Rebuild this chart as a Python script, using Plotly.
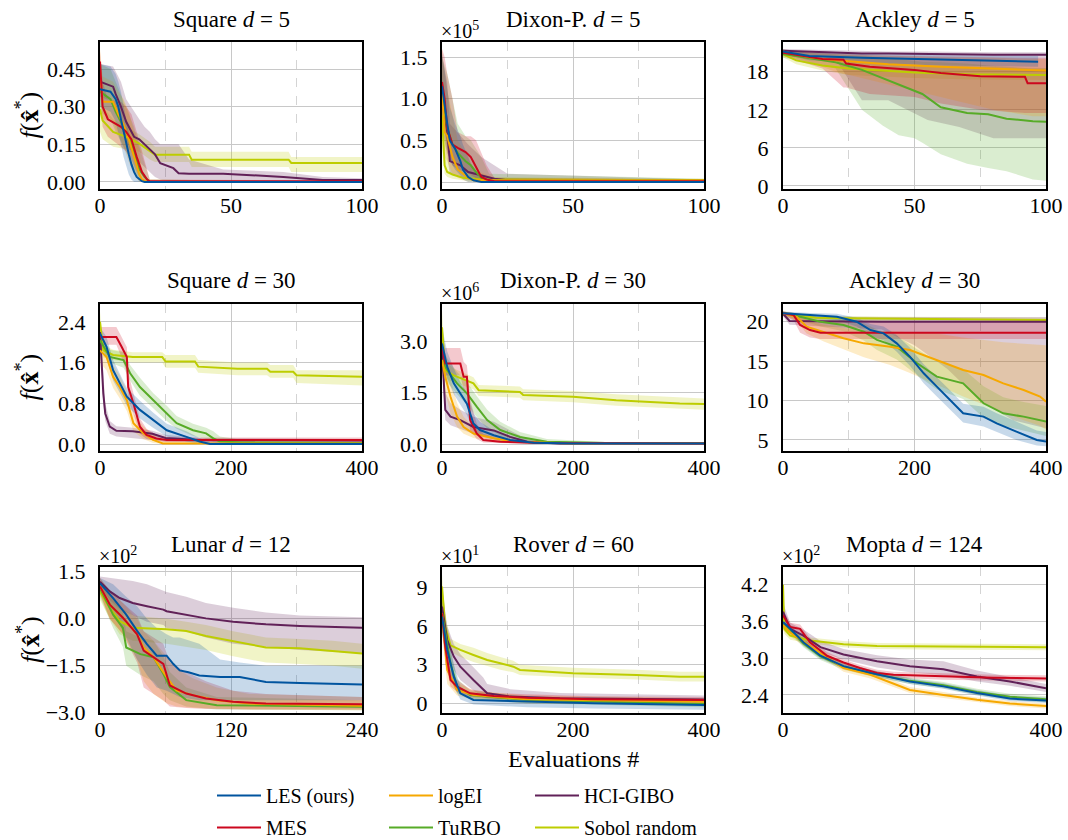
import plotly.graph_objects as go

W, H = 1068, 840

# ---------------- data: Square d=5 ----------------
SQ5_LES_X = [0, 4, 6, 7, 8, 9, 10, 11, 12, 13, 14, 15, 16, 17, 100]
SQ5_LES_MED = [0.37, 0.36, 0.33, 0.30, 0.25, 0.20, 0.15, 0.11, 0.07, 0.04, 0.02, 0.01, 0.003, 0.0, 0.0]
SQ5_LES_LO = [0.30, 0.28, 0.24, 0.20, 0.15, 0.10, 0.06, 0.03, 0.01, 0.0, 0.0, 0.0, 0.0, 0.0, 0.0]
SQ5_LES_HI = [0.47, 0.46, 0.43, 0.40, 0.36, 0.30, 0.25, 0.20, 0.15, 0.10, 0.06, 0.03, 0.01, 0.0, 0.0]
SQ5_LOGEI_X = [0, 1, 5, 7, 9, 11, 13, 15, 16, 18, 100]
SQ5_LOGEI_MED = [0.45, 0.32, 0.32, 0.27, 0.23, 0.17, 0.10, 0.03, 0.01, 0.0, 0.0]
SQ5_LOGEI_LO = [0.35, 0.25, 0.24, 0.19, 0.14, 0.08, 0.03, 0.0, 0.0, 0.0, 0.0]
SQ5_LOGEI_HI = [0.53, 0.42, 0.40, 0.36, 0.33, 0.28, 0.20, 0.12, 0.05, 0.01, 0.0]
SQ5_MES_X = [0, 1, 3, 8, 10, 12, 14, 16, 18, 19, 100]
SQ5_MES_MED = [0.48, 0.30, 0.25, 0.22, 0.20, 0.17, 0.10, 0.04, 0.01, 0.003, 0.003]
SQ5_MES_LO = [0.38, 0.22, 0.18, 0.14, 0.12, 0.09, 0.04, 0.0, 0.0, 0.0, 0.0]
SQ5_MES_HI = [0.52, 0.40, 0.33, 0.32, 0.30, 0.27, 0.20, 0.12, 0.04, 0.01, 0.005]
SQ5_TURBO_X = [0, 4, 6, 8, 10, 12, 13, 15, 17, 19, 100]
SQ5_TURBO_MED = [0.36, 0.33, 0.28, 0.24, 0.20, 0.15, 0.12, 0.05, 0.02, 0.0, 0.0]
SQ5_TURBO_LO = [0.28, 0.25, 0.20, 0.16, 0.12, 0.07, 0.05, 0.01, 0.0, 0.0, 0.0]
SQ5_TURBO_HI = [0.47, 0.45, 0.40, 0.35, 0.30, 0.25, 0.22, 0.14, 0.07, 0.01, 0.0]
SQ5_HCI_X = [0, 5, 6, 8, 10, 13, 15, 17, 19, 21, 23, 28, 30, 34, 47, 70, 85, 100]
SQ5_HCI_MED = [0.40, 0.38, 0.35, 0.30, 0.24, 0.18, 0.17, 0.15, 0.13, 0.11, 0.075, 0.055, 0.035, 0.033, 0.033, 0.02, 0.008, 0.008]
SQ5_HCI_LO = [0.34, 0.32, 0.28, 0.22, 0.16, 0.10, 0.08, 0.06, 0.04, 0.02, 0.01, 0.0, 0.0, 0.0, 0.0, 0.0, 0.0, 0.0]
SQ5_HCI_HI = [0.47, 0.46, 0.44, 0.40, 0.33, 0.28, 0.25, 0.22, 0.20, 0.17, 0.15, 0.15, 0.15, 0.09, 0.05, 0.04, 0.02, 0.015]
SQ5_SOBOL_X = [0, 1, 5, 10, 15, 19, 21, 34, 35, 72, 73, 100]
SQ5_SOBOL_MED = [0.29, 0.245, 0.20, 0.18, 0.153, 0.126, 0.109, 0.109, 0.089, 0.089, 0.076, 0.076]
SQ5_SOBOL_LO = [0.20, 0.17, 0.14, 0.13, 0.12, 0.09, 0.08, 0.08, 0.06, 0.06, 0.04, 0.04]
SQ5_SOBOL_HI = [0.36, 0.30, 0.25, 0.22, 0.19, 0.16, 0.14, 0.14, 0.12, 0.12, 0.10, 0.10]

# ---------------- data: Dixon-Price d=5 (x1e5) ----------------
DP5_LES_X = [0, 1, 2, 3, 5, 7, 8, 10, 12, 15, 100]
DP5_LES_MED = [1.15, 0.9, 0.7, 0.5, 0.4, 0.25, 0.15, 0.06, 0.02, 0.0, 0.0]
DP5_LES_LO = [0.8, 0.6, 0.4, 0.25, 0.15, 0.08, 0.03, 0.0, 0.0, 0.0, 0.0]
DP5_LES_HI = [1.55, 1.35, 1.1, 0.9, 0.7, 0.55, 0.45, 0.3, 0.15, 0.05, 0.01]
DP5_LOGEI_X = [0, 1, 2, 4, 6, 8, 10, 12, 20, 100]
DP5_LOGEI_MED = [1.1, 0.6, 0.55, 0.3, 0.15, 0.1, 0.05, 0.02, 0.02, 0.02]
DP5_LOGEI_LO = [0.7, 0.3, 0.25, 0.1, 0.05, 0.02, 0.0, 0.0, 0.0, 0.0]
DP5_LOGEI_HI = [1.6, 1.3, 1.1, 0.8, 0.5, 0.4, 0.3, 0.15, 0.05, 0.03]
DP5_MES_X = [0, 1, 2, 4, 6, 9, 11, 13, 15, 17, 20, 100]
DP5_MES_MED = [1.2, 1.0, 0.65, 0.45, 0.41, 0.36, 0.30, 0.18, 0.06, 0.03, 0.01, 0.01]
DP5_MES_LO = [0.9, 0.6, 0.35, 0.2, 0.15, 0.12, 0.08, 0.04, 0.01, 0.0, 0.0, 0.0]
DP5_MES_HI = [1.6, 1.5, 1.3, 1.0, 0.6, 0.55, 0.55, 0.5, 0.35, 0.2, 0.05, 0.03]
DP5_TURBO_X = [0, 2, 4, 6, 9, 11, 13, 15, 18, 100]
DP5_TURBO_MED = [1.0, 0.65, 0.45, 0.35, 0.25, 0.2, 0.12, 0.05, 0.02, 0.02]
DP5_TURBO_LO = [0.6, 0.35, 0.2, 0.15, 0.08, 0.05, 0.02, 0.0, 0.0, 0.0]
DP5_TURBO_HI = [1.5, 1.3, 1.0, 0.7, 0.55, 0.5, 0.4, 0.3, 0.1, 0.04]
DP5_HCI_X = [0, 2, 3, 7, 10, 15, 20, 25, 100]
DP5_HCI_MED = [1.0, 0.6, 0.25, 0.2, 0.12, 0.08, 0.04, 0.02, 0.01]
DP5_HCI_LO = [0.7, 0.3, 0.1, 0.06, 0.03, 0.02, 0.01, 0.0, 0.0]
DP5_HCI_HI = [1.5, 1.2, 0.7, 0.55, 0.45, 0.3, 0.2, 0.1, 0.03]
DP5_SOBOL_X = [0, 1, 2, 4, 8, 15, 100]
DP5_SOBOL_MED = [0.8, 0.2, 0.12, 0.09, 0.05, 0.03, 0.02]
DP5_SOBOL_LO = [0.4, 0.1, 0.06, 0.04, 0.02, 0.01, 0.01]
DP5_SOBOL_HI = [1.4, 0.6, 0.3, 0.2, 0.1, 0.06, 0.04]

# ---------------- data: Ackley d=5 ----------------
AK5_LES_X = [0, 10, 30, 60, 97]
AK5_LES_MED = [21.2, 20.5, 20.2, 19.9, 19.6]
AK5_LES_LO = [20.8, 19.8, 19.4, 19.0, 18.8]
AK5_LES_HI = [21.5, 21.0, 20.8, 20.6, 20.5]
AK5_LOGEI_X = [0, 10, 20, 40, 60, 80, 95, 100]
AK5_LOGEI_MED = [21.2, 20.3, 19.8, 19.2, 18.8, 18.5, 18.2, 18.2]
AK5_LOGEI_LO = [20.7, 19.5, 18.0, 16.0, 14.0, 12.0, 11.0, 11.0]
AK5_LOGEI_HI = [21.5, 21.0, 20.8, 20.5, 20.3, 20.2, 20.0, 20.0]
AK5_MES_X = [0, 5, 15, 23, 24, 33, 50, 60, 75, 92, 93, 100]
AK5_MES_MED = [21.0, 20.7, 20.0, 19.9, 19.3, 18.8, 18.3, 17.8, 17.3, 17.2, 16.2, 16.2]
AK5_MES_LO = [20.5, 19.8, 18.5, 15.5, 15.5, 14.5, 14.0, 13.0, 12.0, 11.5, 11.5, 11.5]
AK5_MES_HI = [21.4, 21.2, 21.0, 20.8, 20.8, 20.6, 20.5, 20.4, 20.3, 20.2, 20.2, 20.2]
AK5_TURBO_X = [0, 10, 20, 30, 38, 44, 50, 53, 60, 70, 78, 85, 95, 100]
AK5_TURBO_MED = [20.8, 20.2, 19.5, 18.3, 17.0, 16.0, 15.0, 14.5, 12.4, 11.5, 11.3, 10.6, 10.2, 10.1]
AK5_TURBO_LO = [20.2, 19.5, 18.5, 12.0, 9.5, 8.0, 7.5, 6.8, 5.0, 3.5, 2.8, 2.3, 1.0, 0.8]
AK5_TURBO_HI = [21.3, 21.0, 20.7, 20.5, 20.3, 20.0, 19.8, 19.6, 19.5, 19.3, 19.0, 18.8, 18.5, 18.5]
AK5_HCI_X = [0, 20, 30, 40, 55, 67, 80, 100]
AK5_HCI_MED = [21.3, 21.0, 20.9, 20.9, 20.8, 20.8, 20.7, 20.7]
AK5_HCI_LO = [21.0, 20.0, 13.5, 13.5, 10.4, 9.3, 7.5, 7.5]
AK5_HCI_HI = [21.6, 21.4, 21.3, 21.2, 21.2, 21.1, 21.1, 21.1]
AK5_SOBOL_X = [0, 5, 15, 25, 50, 70, 100]
AK5_SOBOL_MED = [20.8, 19.8, 19.0, 18.5, 17.9, 17.6, 17.5]
AK5_SOBOL_LO = [20.3, 19.2, 18.2, 17.5, 17.0, 16.8, 16.7]
AK5_SOBOL_HI = [21.2, 20.5, 20.0, 19.5, 19.0, 18.8, 18.6]

# ---------------- data: Square d=30 ----------------
SQ30_LES_X = [0, 10, 20, 30, 41, 61, 81, 102, 132, 152, 168, 400]
SQ30_LES_MED = [2.17, 1.91, 1.45, 1.19, 0.93, 0.67, 0.47, 0.27, 0.14, 0.05, 0.0, 0.0]
SQ30_LES_LO = [2.0, 1.7, 1.25, 1.0, 0.75, 0.5, 0.32, 0.15, 0.05, 0.0, 0.0, 0.0]
SQ30_LES_HI = [2.3, 2.1, 1.65, 1.4, 1.1, 0.85, 0.62, 0.4, 0.25, 0.12, 0.05, 0.02]
SQ30_LOGEI_X = [0, 10, 20, 30, 41, 51, 66, 81, 96, 400]
SQ30_LOGEI_MED = [1.84, 1.71, 1.32, 1.12, 0.86, 0.41, 0.21, 0.08, 0.01, 0.01]
SQ30_LOGEI_LO = [1.6, 1.45, 1.1, 0.9, 0.65, 0.25, 0.1, 0.02, 0.0, 0.0]
SQ30_LOGEI_HI = [2.1, 1.95, 1.55, 1.35, 1.05, 0.6, 0.35, 0.18, 0.06, 0.03]
SQ30_MES_X = [0, 25, 33, 41, 43, 51, 61, 71, 86, 102, 400]
SQ30_MES_MED = [2.1, 2.1, 1.91, 1.71, 1.12, 0.8, 0.34, 0.18, 0.11, 0.08, 0.08]
SQ30_MES_LO = [1.95, 1.95, 1.7, 1.4, 0.9, 0.6, 0.2, 0.1, 0.06, 0.04, 0.04]
SQ30_MES_HI = [2.3, 2.3, 2.1, 1.9, 1.4, 1.0, 0.5, 0.3, 0.18, 0.13, 0.13]
SQ30_TURBO_X = [0, 15, 36, 46, 61, 81, 102, 117, 142, 162, 173, 183, 218, 400]
SQ30_TURBO_MED = [2.04, 1.71, 1.65, 1.39, 1.12, 0.86, 0.6, 0.41, 0.27, 0.21, 0.11, 0.05, 0.03, 0.02]
SQ30_TURBO_LO = [1.9, 1.6, 1.5, 1.25, 0.95, 0.7, 0.45, 0.3, 0.16, 0.1, 0.04, 0.01, 0.0, 0.0]
SQ30_TURBO_HI = [2.2, 1.85, 1.8, 1.55, 1.3, 1.0, 0.75, 0.55, 0.4, 0.32, 0.25, 0.15, 0.08, 0.05]
SQ30_HCI_X = [0, 5, 8, 15, 25, 50, 80, 100, 150, 400]
SQ30_HCI_MED = [2.2, 1.0, 0.6, 0.34, 0.26, 0.25, 0.2, 0.12, 0.08, 0.07]
SQ30_HCI_LO = [2.0, 0.8, 0.45, 0.2, 0.15, 0.12, 0.08, 0.05, 0.03, 0.03]
SQ30_HCI_HI = [2.4, 1.3, 0.8, 0.45, 0.35, 0.32, 0.26, 0.18, 0.12, 0.1]
SQ30_SOBOL_X = [0, 5, 20, 50, 95, 100, 145, 150, 210, 255, 260, 295, 300, 400]
SQ30_SOBOL_MED = [2.4, 1.84, 1.75, 1.71, 1.71, 1.62, 1.62, 1.52, 1.48, 1.48, 1.42, 1.42, 1.35, 1.32]
SQ30_SOBOL_LO = [2.2, 1.7, 1.65, 1.6, 1.6, 1.5, 1.5, 1.4, 1.35, 1.35, 1.3, 1.3, 1.2, 1.15]
SQ30_SOBOL_HI = [2.6, 1.95, 1.85, 1.8, 1.8, 1.75, 1.75, 1.65, 1.6, 1.6, 1.55, 1.55, 1.45, 1.45]

# ---------------- data: Dixon-Price d=30 (x1e6) ----------------
DP30_LES_X = [0, 8, 18, 28, 38, 48, 58, 79, 104, 140, 200, 400]
DP30_LES_MED = [2.93, 2.25, 1.77, 1.48, 1.18, 0.6, 0.41, 0.26, 0.12, 0.04, 0.02, 0.02]
DP30_LES_LO = [2.5, 1.9, 1.45, 1.15, 0.85, 0.4, 0.25, 0.14, 0.05, 0.01, 0.0, 0.0]
DP30_LES_HI = [3.4, 2.7, 2.2, 1.8, 1.5, 0.9, 0.65, 0.4, 0.22, 0.1, 0.05, 0.04]
DP30_LOGEI_X = [0, 5, 13, 23, 33, 48, 79, 109, 200, 400]
DP30_LOGEI_MED = [2.45, 1.96, 1.38, 0.8, 0.5, 0.31, 0.17, 0.07, 0.02, 0.02]
DP30_LOGEI_LO = [2.0, 1.5, 0.9, 0.5, 0.3, 0.18, 0.08, 0.03, 0.01, 0.01]
DP30_LOGEI_HI = [3.0, 2.5, 1.9, 1.2, 0.8, 0.5, 0.3, 0.15, 0.05, 0.04]
DP30_MES_X = [0, 5, 28, 33, 38, 43, 53, 63, 89, 150, 400]
DP30_MES_MED = [2.83, 2.35, 2.35, 1.96, 1.96, 0.7, 0.31, 0.12, 0.07, 0.03, 0.02]
DP30_MES_LO = [2.4, 2.0, 2.0, 1.6, 1.5, 0.4, 0.15, 0.05, 0.03, 0.01, 0.01]
DP30_MES_HI = [3.2, 2.8, 2.8, 2.4, 2.3, 1.3, 0.6, 0.3, 0.15, 0.06, 0.04]
DP30_TURBO_X = [0, 8, 23, 38, 53, 69, 89, 119, 160, 250, 400]
DP30_TURBO_MED = [2.45, 2.15, 1.77, 1.48, 1.09, 0.7, 0.41, 0.21, 0.07, 0.03, 0.03]
DP30_TURBO_LO = [2.1, 1.8, 1.45, 1.15, 0.8, 0.45, 0.25, 0.1, 0.03, 0.01, 0.01]
DP30_TURBO_HI = [2.9, 2.5, 2.1, 1.8, 1.4, 1.0, 0.65, 0.35, 0.15, 0.06, 0.05]
DP30_HCI_X = [0, 5, 13, 28, 48, 79, 104, 130, 180, 400]
DP30_HCI_MED = [2.8, 1.0, 0.8, 0.7, 0.5, 0.4, 0.21, 0.07, 0.02, 0.02]
DP30_HCI_LO = [2.4, 0.7, 0.55, 0.45, 0.3, 0.2, 0.1, 0.03, 0.01, 0.01]
DP30_HCI_HI = [3.3, 1.5, 1.2, 1.0, 0.8, 0.65, 0.4, 0.15, 0.05, 0.04]
DP30_SOBOL_X = [0, 5, 18, 48, 56, 119, 124, 200, 266, 363, 400]
DP30_SOBOL_MED = [3.4, 2.15, 2.0, 1.77, 1.57, 1.52, 1.43, 1.38, 1.28, 1.18, 1.17]
DP30_SOBOL_LO = [3.0, 1.9, 1.8, 1.6, 1.4, 1.35, 1.28, 1.22, 1.12, 1.02, 1.0]
DP30_SOBOL_HI = [3.9, 2.4, 2.2, 1.95, 1.72, 1.68, 1.6, 1.55, 1.45, 1.35, 1.33]

# ---------------- data: Ackley d=30 ----------------
AK30_LES_X = [0, 41, 82, 112, 133, 153, 173, 193, 214, 234, 254, 274, 305, 325, 355, 386, 400]
AK30_LES_MED = [21.06, 20.85, 20.63, 20.0, 18.94, 18.52, 17.25, 15.56, 13.45, 11.76, 10.07, 8.38, 7.96, 7.11, 6.06, 5.0, 4.79]
AK30_LES_LO = [20.8, 20.5, 20.2, 19.4, 18.2, 17.6, 16.2, 14.4, 12.2, 10.5, 8.8, 7.2, 6.7, 6.0, 5.0, 4.3, 4.2]
AK30_LES_HI = [21.3, 21.1, 21.0, 20.5, 19.7, 19.4, 18.3, 16.7, 14.6, 13.0, 11.3, 9.6, 9.2, 8.4, 7.3, 6.2, 6.0]
AK30_LOGEI_X = [0, 21, 36, 62, 92, 123, 163, 193, 234, 274, 305, 335, 366, 391, 400]
AK30_LOGEI_MED = [21.06, 20.6, 19.37, 18.73, 17.9, 17.25, 16.83, 16.4, 15.14, 13.87, 13.24, 12.18, 11.34, 10.5, 9.86]
AK30_LOGEI_LO = [20.8, 20.0, 18.5, 17.5, 16.5, 15.5, 14.5, 13.5, 12.0, 10.5, 9.5, 8.5, 7.5, 6.8, 6.3]
AK30_LOGEI_HI = [21.3, 21.0, 20.2, 19.6, 19.2, 18.9, 18.8, 18.7, 18.5, 18.0, 17.7, 17.4, 17.2, 17.0, 17.0]
AK30_MES_X = [0, 16, 26, 41, 57, 400]
AK30_MES_MED = [21.06, 20.84, 19.58, 18.94, 18.6, 18.6]
AK30_MES_LO = [20.8, 20.2, 18.6, 18.0, 17.8, 17.8]
AK30_MES_HI = [21.3, 21.1, 20.5, 20.2, 20.0, 20.0]
AK30_TURBO_X = [0, 26, 57, 92, 123, 143, 173, 204, 234, 274, 305, 335, 366, 400]
AK30_TURBO_MED = [21.06, 20.63, 20.0, 19.58, 18.73, 17.68, 16.83, 14.72, 13.03, 12.18, 9.65, 8.38, 7.96, 7.33]
AK30_TURBO_LO = [20.8, 20.2, 19.4, 18.8, 17.6, 16.4, 15.2, 13.2, 11.4, 10.2, 7.8, 6.8, 6.2, 5.5]
AK30_TURBO_HI = [21.3, 21.0, 20.6, 20.3, 19.8, 19.0, 18.2, 16.5, 15.0, 14.0, 11.8, 10.4, 9.8, 9.3]
AK30_HCI_X = [0, 10, 150, 200, 250, 300, 350, 400]
AK30_HCI_MED = [21.0, 20.1, 20.0, 20.0, 20.0, 20.0, 20.0, 20.0]
AK30_HCI_LO = [20.7, 19.6, 19.0, 17.0, 14.0, 10.0, 7.5, 6.5]
AK30_HCI_HI = [21.3, 20.7, 20.6, 20.6, 20.6, 20.6, 20.6, 20.6]
AK30_SOBOL_X = [0, 50, 100, 250, 400]
AK30_SOBOL_MED = [21.06, 20.5, 20.42, 20.3, 20.2]
AK30_SOBOL_LO = [20.8, 20.2, 20.1, 20.0, 19.9]
AK30_SOBOL_HI = [21.3, 20.8, 20.7, 20.6, 20.5]

# ---------------- data: Lunar d=12 (x1e2) ----------------
LUN_LES_X = [0, 12, 24, 34, 43, 52, 61, 67, 73, 81, 91, 110, 128, 152, 183, 213, 240]
LUN_LES_MED = [1.13, 0.66, 0.13, -0.39, -0.81, -1.18, -1.18, -1.44, -1.65, -1.71, -1.81, -1.86, -1.86, -2.02, -2.05, -2.08, -2.1]
LUN_LES_LO = [0.9, 0.2, -0.6, -1.3, -1.8, -2.2, -2.3, -2.4, -2.5, -2.55, -2.6, -2.6, -2.6, -2.6, -2.6, -2.6, -2.6]
LUN_LES_HI = [1.3, 1.1, 0.7, 0.4, 0.0, -0.3, -0.5, -0.6, -0.6, -0.7, -0.8, -1.3, -1.4, -1.5, -1.5, -1.5, -1.5]
LUN_LOGEI_X = [0, 9, 21, 34, 40, 49, 61, 70, 85, 107, 137, 240]
LUN_LOGEI_MED = [1.03, 0.45, 0.03, -0.5, -0.92, -1.23, -1.86, -2.29, -2.44, -2.6, -2.71, -2.78]
LUN_LOGEI_LO = [0.8, 0.0, -0.5, -1.3, -2.0, -2.4, -2.7, -2.8, -2.85, -2.88, -2.9, -2.92]
LUN_LOGEI_HI = [1.3, 0.9, 0.5, 0.0, -0.4, -0.7, -1.2, -1.6, -1.9, -2.2, -2.4, -2.5]
LUN_MES_X = [0, 9, 21, 34, 40, 49, 58, 64, 79, 97, 122, 152, 240]
LUN_MES_MED = [1.03, 0.45, 0.03, -0.5, -1.02, -1.23, -1.44, -2.13, -2.39, -2.55, -2.65, -2.71, -2.73]
LUN_MES_LO = [0.8, 0.0, -0.5, -1.4, -2.2, -2.4, -2.6, -2.8, -2.85, -2.88, -2.9, -2.9, -2.9]
LUN_MES_HI = [1.3, 0.9, 0.5, 0.1, -0.4, -0.6, -0.8, -1.4, -1.7, -2.0, -2.3, -2.4, -2.5]
LUN_TURBO_X = [0, 12, 21, 24, 37, 49, 58, 64, 79, 107, 240]
LUN_TURBO_MED = [0.97, 0.13, -0.29, -0.92, -1.13, -1.23, -1.76, -2.18, -2.6, -2.76, -2.81]
LUN_TURBO_LO = [0.7, -0.3, -0.9, -1.5, -1.8, -2.0, -2.4, -2.6, -2.8, -2.9, -2.92]
LUN_TURBO_HI = [1.2, 0.6, 0.2, -0.4, -0.6, -0.7, -1.2, -1.7, -2.2, -2.5, -2.6]
LUN_HCI_X = [0, 9, 18, 30, 43, 58, 61, 79, 97, 122, 152, 183, 240]
LUN_HCI_MED = [1.18, 0.87, 0.66, 0.5, 0.4, 0.29, 0.24, 0.13, 0.01, -0.1, -0.18, -0.23, -0.29]
LUN_HCI_LO = [1.0, 0.6, 0.3, 0.1, -0.1, -0.2, -0.3, -0.4, -0.6, -0.8, -0.9, -1.0, -1.1]
LUN_HCI_HI = [1.35, 1.3, 1.25, 1.2, 1.1, 0.9, 0.85, 0.7, 0.5, 0.35, 0.2, 0.1, 0.05]
LUN_SOBOL_X = [0, 9, 18, 30, 61, 79, 97, 122, 152, 183, 213, 240]
LUN_SOBOL_MED = [0.87, 0.34, -0.08, -0.29, -0.34, -0.39, -0.55, -0.71, -0.92, -0.94, -1.02, -1.11]
LUN_SOBOL_LO = [0.6, 0.0, -0.5, -0.7, -0.8, -0.9, -1.0, -1.2, -1.4, -1.45, -1.5, -1.6]
LUN_SOBOL_HI = [1.2, 0.8, 0.4, 0.1, 0.0, -0.1, -0.2, -0.4, -0.6, -0.65, -0.7, -0.8]

# ---------------- data: Rover d=60 (x1e1) ----------------
ROV_LES_X = [0, 8, 18, 28, 48, 130, 231, 400]
ROV_LES_MED = [6.72, 4.14, 2.07, 0.78, 0.26, 0.13, 0.0, -0.13]
ROV_LES_LO = [5.5, 3.0, 1.3, 0.3, -0.1, -0.3, -0.4, -0.5]
ROV_LES_HI = [8.0, 5.5, 3.0, 1.3, 0.6, 0.4, 0.3, 0.2]
ROV_LOGEI_X = [0, 8, 23, 48, 130, 400]
ROV_LOGEI_MED = [7.0, 2.59, 1.03, 0.65, 0.31, 0.13]
ROV_LOGEI_LO = [5.5, 1.5, 0.6, 0.3, 0.0, -0.1]
ROV_LOGEI_HI = [9.0, 4.0, 1.6, 1.0, 0.6, 0.4]
ROV_MES_X = [0, 5, 13, 23, 43, 79, 130, 231, 400]
ROV_MES_MED = [6.98, 4.4, 1.81, 1.29, 0.78, 0.57, 0.44, 0.31, 0.26]
ROV_MES_LO = [5.8, 3.2, 1.3, 0.9, 0.5, 0.35, 0.25, 0.1, 0.05]
ROV_MES_HI = [8.5, 5.6, 2.6, 1.8, 1.1, 0.8, 0.7, 0.55, 0.5]
ROV_TURBO_X = [0, 13, 23, 43, 130, 400]
ROV_TURBO_MED = [7.0, 3.1, 1.29, 0.65, 0.26, -0.05]
ROV_TURBO_LO = [5.5, 2.0, 0.8, 0.3, 0.0, -0.3]
ROV_TURBO_HI = [8.5, 4.2, 1.9, 1.0, 0.5, 0.2]
ROV_HCI_X = [0, 8, 18, 28, 48, 63, 69, 104, 180, 400]
ROV_HCI_MED = [7.5, 4.91, 3.62, 2.84, 1.81, 1.03, 0.78, 0.52, 0.39, 0.3]
ROV_HCI_LO = [6.5, 3.8, 2.6, 1.8, 1.0, 0.5, 0.4, 0.3, 0.2, 0.15]
ROV_HCI_HI = [9.0, 6.0, 4.6, 3.8, 2.8, 2.0, 1.5, 1.1, 0.8, 0.6]
ROV_SOBOL_X = [0, 5, 13, 28, 48, 69, 89, 109, 119, 160, 200, 297, 363, 400]
ROV_SOBOL_MED = [9.05, 5.95, 4.5, 4.14, 3.75, 3.36, 3.1, 2.84, 2.59, 2.46, 2.33, 2.2, 2.07, 2.07]
ROV_SOBOL_LO = [8.0, 5.2, 4.0, 3.6, 3.2, 2.9, 2.6, 2.4, 2.2, 2.1, 2.0, 1.85, 1.7, 1.7]
ROV_SOBOL_HI = [10.0, 6.7, 5.0, 4.6, 4.3, 3.9, 3.6, 3.3, 3.0, 2.9, 2.75, 2.6, 2.45, 2.45]

# ---------------- data: Mopta d=124 (x1e2) ----------------
MOP_LES_X = [0, 11, 31, 57, 92, 133, 193, 244, 295, 345, 400]
MOP_LES_MED = [3.59, 3.48, 3.26, 3.04, 2.87, 2.76, 2.62, 2.54, 2.43, 2.34, 2.31]
MOP_LES_LO = [3.5, 3.42, 3.2, 2.99, 2.83, 2.72, 2.58, 2.5, 2.39, 2.3, 2.27]
MOP_LES_HI = [3.7, 3.55, 3.32, 3.09, 2.92, 2.81, 2.67, 2.59, 2.48, 2.39, 2.36]
MOP_LOGEI_X = [0, 11, 41, 92, 133, 193, 244, 295, 345, 400]
MOP_LOGEI_MED = [3.54, 3.42, 3.2, 2.84, 2.73, 2.48, 2.4, 2.32, 2.26, 2.22]
MOP_LOGEI_LO = [3.45, 3.35, 3.14, 2.78, 2.67, 2.43, 2.35, 2.28, 2.22, 2.18]
MOP_LOGEI_HI = [3.62, 3.49, 3.26, 2.9, 2.79, 2.53, 2.45, 2.36, 2.3, 2.26]
MOP_MES_X = [0, 11, 26, 41, 67, 92, 117, 143, 168, 244, 320, 400]
MOP_MES_MED = [3.7, 3.51, 3.48, 3.26, 3.04, 2.93, 2.84, 2.76, 2.73, 2.7, 2.68, 2.67]
MOP_MES_LO = [3.6, 3.44, 3.4, 3.19, 2.98, 2.88, 2.79, 2.71, 2.68, 2.65, 2.63, 2.62]
MOP_MES_HI = [3.8, 3.58, 3.55, 3.33, 3.1, 2.98, 2.89, 2.81, 2.78, 2.75, 2.73, 2.72]
MOP_TURBO_X = [0, 11, 31, 57, 92, 133, 193, 244, 295, 345, 400]
MOP_TURBO_MED = [3.57, 3.46, 3.24, 3.03, 2.86, 2.76, 2.63, 2.56, 2.45, 2.37, 2.33]
MOP_TURBO_LO = [3.48, 3.4, 3.18, 2.97, 2.81, 2.71, 2.58, 2.51, 2.4, 2.32, 2.28]
MOP_TURBO_HI = [3.68, 3.53, 3.3, 3.09, 2.91, 2.81, 2.68, 2.61, 2.5, 2.42, 2.38]
MOP_HCI_X = [0, 11, 31, 57, 92, 143, 193, 244, 295, 345, 400]
MOP_HCI_MED = [3.76, 3.48, 3.37, 3.18, 3.06, 2.95, 2.87, 2.82, 2.7, 2.62, 2.51]
MOP_HCI_LO = [3.65, 3.4, 3.28, 3.1, 2.98, 2.85, 2.77, 2.72, 2.62, 2.55, 2.45]
MOP_HCI_HI = [3.9, 3.58, 3.47, 3.28, 3.15, 3.05, 2.98, 2.95, 2.8, 2.7, 2.58]
MOP_SOBOL_X = [0, 2, 11, 41, 92, 143, 244, 400]
MOP_SOBOL_MED = [4.2, 3.48, 3.37, 3.29, 3.23, 3.2, 3.19, 3.18]
MOP_SOBOL_LO = [4.0, 3.4, 3.3, 3.24, 3.18, 3.15, 3.14, 3.13]
MOP_SOBOL_HI = [4.4, 3.56, 3.44, 3.34, 3.28, 3.25, 3.24, 3.23]

# ---------------- labels ----------------
METHOD_NAMES = {"LES": "LES (ours)", "MES": "MES", "LOGEI": "logEI",
                "TURBO": "TuRBO", "HCI": "HCI-GIBO", "SOBOL": "Sobol random"}
PANEL_TITLES = ["Square <i>d</i> = 5", "Dixon-P. <i>d</i> = 5", "Ackley <i>d</i> = 5",
                "Square <i>d</i> = 30", "Dixon-P. <i>d</i> = 30", "Ackley <i>d</i> = 30",
                "Lunar <i>d</i> = 12", "Rover <i>d</i> = 60", "Mopta <i>d</i> = 124"]
PANEL_KEYS = ["SQ5", "DP5", "AK5", "SQ30", "DP30", "AK30", "LUN", "ROV", "MOP"]
PANEL_EXPONENT = [None, "5", None, None, "6", None, "2", "1", "2"]
X_TICKS = [[0, 50, 100], [0, 50, 100], [0, 50, 100],
           [0, 200, 400], [0, 200, 400], [0, 200, 400],
           [0, 120, 240], [0, 200, 400], [0, 200, 400]]
X_MINOR = [[25, 75], [25, 75], [25, 75],
           [100, 300], [100, 300], [100, 300],
           [60, 180], [100, 300], [100, 300]]
Y_TICKS = [[0, 0.15, 0.30, 0.45], [0.0, 0.5, 1.0, 1.5], [0, 6, 12, 18],
           [0.0, 0.8, 1.6, 2.4], [0.0, 1.5, 3.0], [5, 10, 15, 20],
           [-3.0, -1.5, 0.0, 1.5], [0, 3, 6, 9], [2.4, 3.0, 3.6, 4.2]]

# ---------------- styles ----------------
COLORS = {"LES": "#00549F", "MES": "#CC071E", "LOGEI": "#F6A800",
          "TURBO": "#57AB27", "HCI": "#612158", "SOBOL": "#BDCD00"}
DRAW_ORDER = ["SOBOL", "HCI", "TURBO", "LOGEI", "MES", "LES"]
# legend id and its top-left corner (px)
LEGEND_SLOT = {"LES": ("legend", 212, 776), "MES": ("legend2", 212, 808),
               "LOGEI": ("legend3", 384, 776), "TURBO": ("legend4", 384, 808),
               "HCI": ("legend5", 530, 776), "SOBOL": ("legend6", 530, 808)}
X_RANGES = [[0, 100], [0, 100], [0, 100], [0, 400], [0, 400], [0, 400],
            [0, 240], [0, 400], [0, 400]]
Y_RANGES = [[-0.028, 0.558], [-0.084, 1.68], [-0.5, 22.7],
            [-0.137, 2.75], [-0.2, 4.08], [3.6, 22.24],
            [-3.01, 1.65], [-0.75, 10.57], [2.105, 4.49]]
Y_FORMATS = [".2f", ".1f", "d", ".1f", ".1f", "d", ".1f", "d", ".1f"]
COLS_PX = [(100, 362), (442, 704), (783, 1046)]
ROWS_PX = [(42, 189), (304, 451), (567, 713)]
FONT = "Liberation Serif, DejaVu Serif, Times New Roman, serif"


def rgba(hexcol, a):
    h = hexcol.lstrip("#")
    r, g, b = int(h[0:2], 16), int(h[2:4], 16), int(h[4:6], 16)
    return f"rgba({r},{g},{b},{a})"


fig = go.Figure()
annotations = []
layout_axes = {}

for i, pkey in enumerate(PANEL_KEYS):
    r, c = divmod(i, 3)
    x0, x1 = COLS_PX[c]
    y0, y1 = ROWS_PX[r]
    xa = "x" if i == 0 else f"x{i + 1}"
    ya = "y" if i == 0 else f"y{i + 1}"
    xname = "xaxis" if i == 0 else f"xaxis{i + 1}"
    yname = "yaxis" if i == 0 else f"yaxis{i + 1}"

    # bands
    for m in DRAW_ORDER:
        xs = globals()[f"{pkey}_{m}_X"]
        lo = globals()[f"{pkey}_{m}_LO"]
        hi = globals()[f"{pkey}_{m}_HI"]
        fig.add_trace(go.Scatter(x=xs, y=hi, mode="lines", line=dict(width=0),
                                 xaxis=xa, yaxis=ya, showlegend=False, hoverinfo="skip"))
        fig.add_trace(go.Scatter(x=xs, y=lo, mode="lines", line=dict(width=0),
                                 fill="tonexty", fillcolor=rgba(COLORS[m], 0.22),
                                 xaxis=xa, yaxis=ya, showlegend=False, hoverinfo="skip"))
    # median lines
    for m in DRAW_ORDER:
        xs = globals()[f"{pkey}_{m}_X"]
        med = globals()[f"{pkey}_{m}_MED"]
        fig.add_trace(go.Scatter(x=xs, y=med, mode="lines", name=METHOD_NAMES[m],
                                 line=dict(color=COLORS[m], width=2),
                                 xaxis=xa, yaxis=ya, showlegend=(i == 0),
                                 legend=LEGEND_SLOT[m][0]))

    layout_axes[xname] = dict(
        domain=[x0 / W, x1 / W], anchor=ya, range=X_RANGES[i],
        tickvals=X_TICKS[i], ticktext=[str(v) for v in X_TICKS[i]],
        showline=True, linecolor="black", linewidth=2, mirror=True,
        showgrid=True, gridcolor="#c8c8c8", gridwidth=1, zeroline=False,
        ticks="", ticklabelstandoff=-4,
        minor=dict(tickvals=X_MINOR[i], showgrid=True, gridcolor="#d4d4d4",
                   griddash="dash", gridwidth=1, ticks=""),
        tickfont=dict(family=FONT, size=22, color="black"))
    layout_axes[yname] = dict(
        domain=[1 - y1 / H, 1 - y0 / H], anchor=xa, range=Y_RANGES[i],
        tickvals=Y_TICKS[i], tickformat=Y_FORMATS[i],
        showline=True, linecolor="black", linewidth=2, mirror=True,
        showgrid=True, gridcolor="#c8c8c8", gridwidth=1, zeroline=False,
        ticks="", ticklabelstandoff=8,
        tickfont=dict(family=FONT, size=22, color="black"))

    # title
    annotations.append(dict(text=PANEL_TITLES[i], x=(x0 + x1) / 2 / W, y=1 - (y0 - 23) / H,
                            xref="paper", yref="paper", xanchor="center", yanchor="middle",
                            showarrow=False, font=dict(family=FONT, size=23, color="black")))
    if PANEL_EXPONENT[i]:
        annotations.append(dict(text=f"×10<sup>{PANEL_EXPONENT[i]}</sup>", x=(x0 - 3) / W,
                                y=1 - (y0 - 12) / H, xref="paper", yref="paper",
                                xanchor="left", yanchor="middle", showarrow=False,
                                font=dict(family=FONT, size=20, color="black")))
    if c == 0:
        annotations.append(dict(text="<i>f</i>(<b>x̂</b><sup>*</sup>)", x=28 / W,
                                y=1 - (y0 + y1) / 2 / H, xref="paper", yref="paper",
                                xanchor="center", yanchor="middle", textangle=-90,
                                showarrow=False, font=dict(family=FONT, size=26, color="black")))

annotations.append(dict(text="Evaluations #", x=(COLS_PX[1][0] + COLS_PX[1][1]) / 2 / W,
                        y=1 - 759 / H, xref="paper", yref="paper", xanchor="center",
                        yanchor="middle", showarrow=False,
                        font=dict(family=FONT, size=24, color="black")))

legends = {}
for m, (lid, lx, ly) in LEGEND_SLOT.items():
    legends[lid] = dict(orientation="v", xanchor="left", yanchor="top", x=lx / W, y=1 - ly / H,
                        bgcolor="rgba(0,0,0,0)", font=dict(family=FONT, size=20, color="black"),
                        itemwidth=44)

fig.update_layout(
    width=W, height=H, margin=dict(l=0, r=0, t=0, b=0, autoexpand=False),
    paper_bgcolor="white", plot_bgcolor="white",
    annotations=annotations,
    **legends,
    **layout_axes,
)

fig.write_html("out.html")
